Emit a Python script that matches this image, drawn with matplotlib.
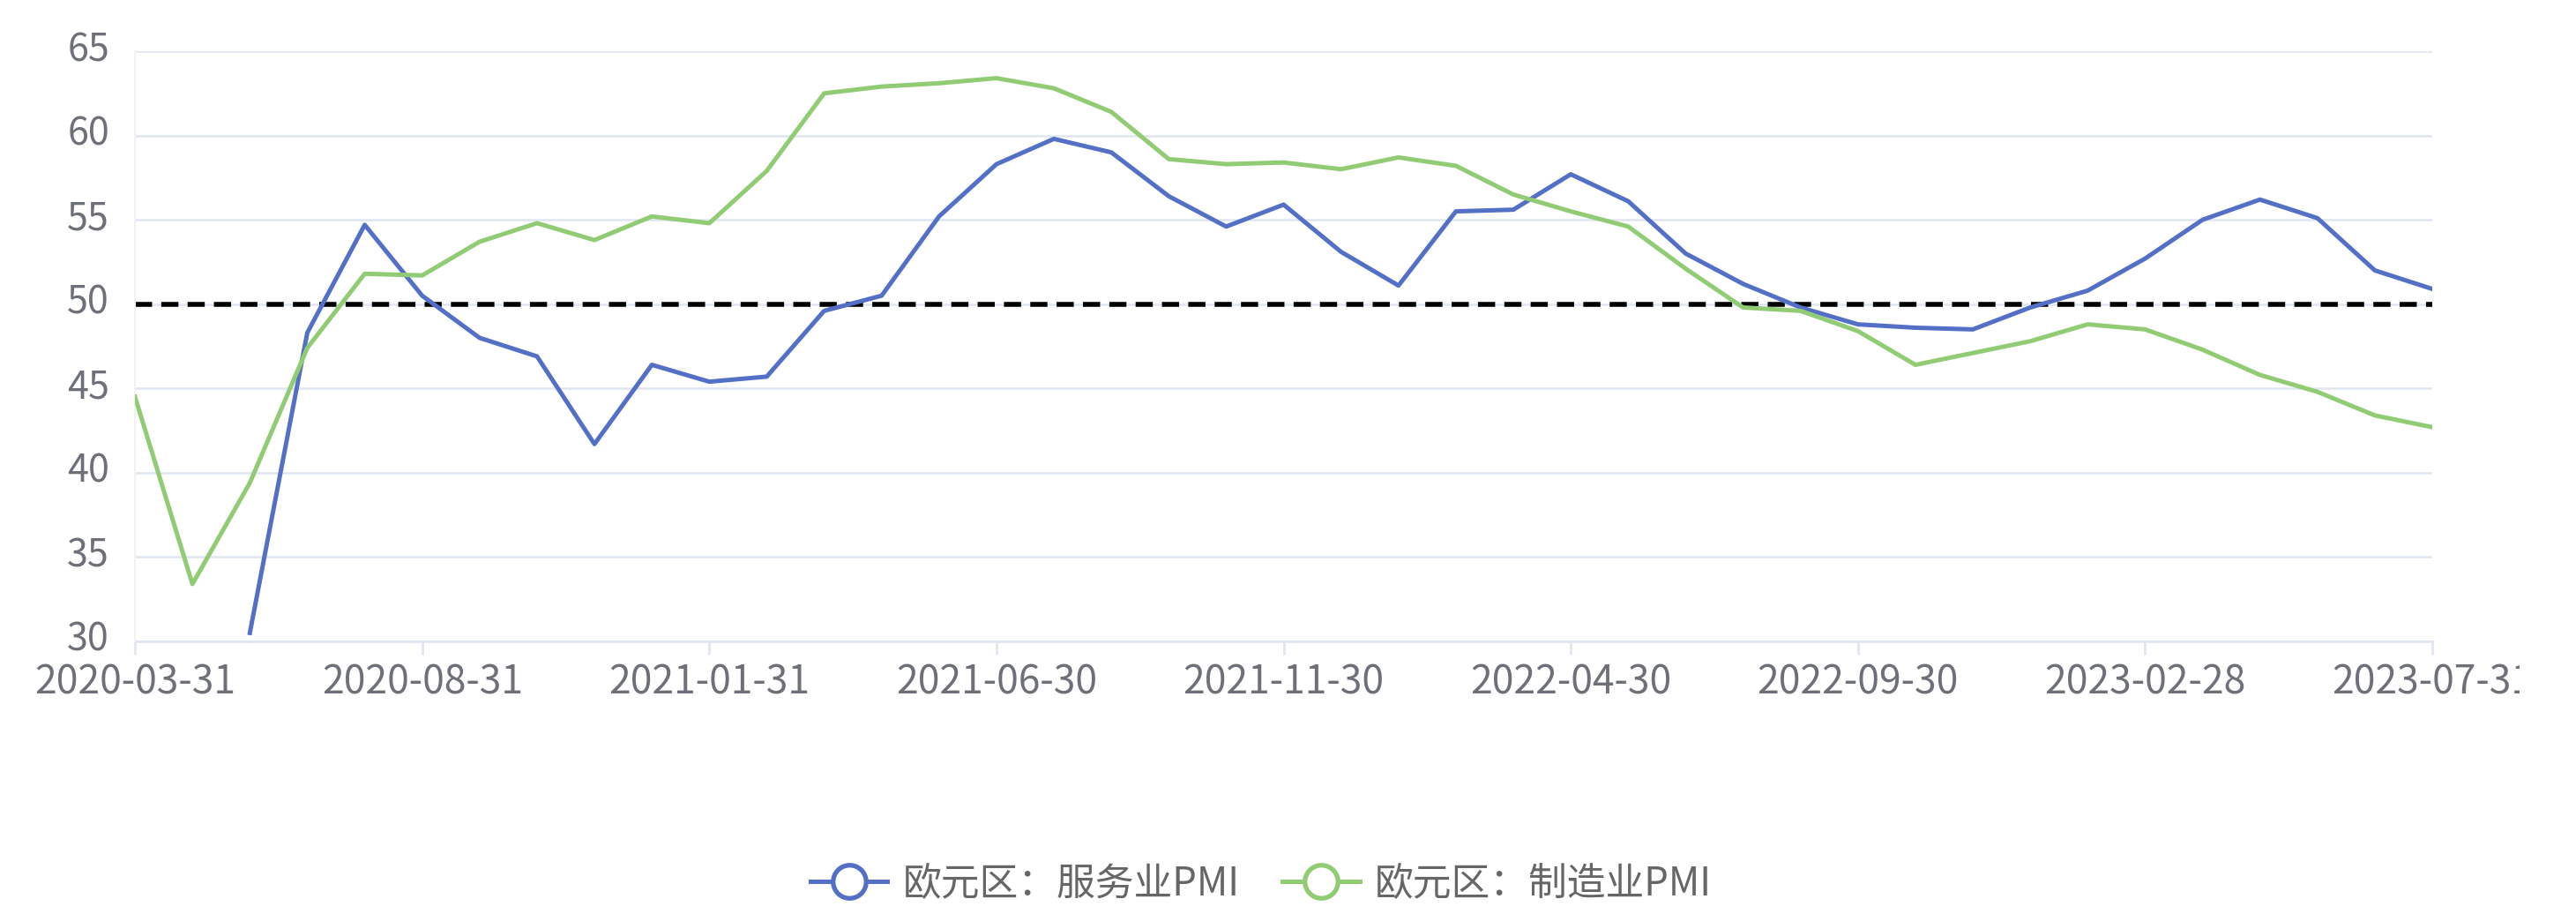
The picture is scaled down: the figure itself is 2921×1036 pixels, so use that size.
import numpy as np
import pandas as pd
from matplotlib import pyplot as plt
from matplotlib.lines import Line2D
from matplotlib.transforms import Bbox, ScaledTranslation

plt.rcParams['font.family'] = ['Noto Sans CJK SC', 'DejaVu Sans']
plt.rcParams['lines.scale_dashes'] = False

# ==============================================================================
#                                                                           DATA
# ==============================================================================
dates = pd.date_range('2020-03-31', periods=41, freq='ME').strftime('%Y-%m-%d').tolist()

services_pmi = [np.nan, np.nan, 30.5, 48.3, 54.7, 50.5, 48.0, 46.9, 41.7, 46.4,
                45.4, 45.7, 49.6, 50.5, 55.2, 58.3, 59.8, 59.0, 56.4, 54.6,
                55.9, 53.1, 51.1, 55.5, 55.6, 57.7, 56.1, 53.0, 51.2, 49.8,
                48.8, 48.6, 48.5, 49.8, 50.8, 52.7, 55.0, 56.2, 55.1, 52.0,
                50.9]

manufacturing_pmi = [44.5, 33.4, 39.4, 47.4, 51.8, 51.7, 53.7, 54.8, 53.8, 55.2,
                     54.8, 57.9, 62.5, 62.9, 63.1, 63.4, 62.8, 61.4, 58.6, 58.3,
                     58.4, 58.0, 58.7, 58.2, 56.5, 55.5, 54.6, 52.1, 49.8, 49.6,
                     48.4, 46.4, 47.1, 47.8, 48.8, 48.5, 47.3, 45.8, 44.8, 43.4,
                     42.7]

series_names = ['欧元区：服务业PMI', '欧元区：制造业PMI']
series_colors = ['#5470C6', '#91CC75']
y_ticks = [30, 35, 40, 45, 50, 55, 60, 65]
label_step = 5
threshold = 50

# ==============================================================================
#                                                                           PLOT
# ==============================================================================
fig = plt.figure(figsize=(29.21, 10.36), dpi=100)
ax = fig.add_axes([0.0524, 0.2983, 0.8918, 0.6457])

x = np.arange(len(dates))
grid_color = '#E0E6F1'
label_color = '#6E7079'

for yv in y_ticks:
    ax.axhline(yv, color=grid_color, lw=1.8, zorder=1)

ax.axhline(threshold, color='black', lw=4, dashes=(14, 7.5), zorder=2)

for vals, color in zip([services_pmi, manufacturing_pmi], series_colors):
    ax.plot(x, vals, color=color, lw=3.6, solid_joinstyle='round', zorder=3)

ax.set_xlim(0, len(dates) - 1)
ax.set_ylim(y_ticks[0], y_ticks[-1])
ax.set_yticks(y_ticks)
ax.set_xticks(x[::label_step])
ax.set_xticklabels(dates[::label_step])

for side in ['top', 'right']:
    ax.spines[side].set_visible(False)
ax.spines['left'].set_color('#F2F2F2')
ax.spines['left'].set_linewidth(1.5)
ax.spines['bottom'].set_color(grid_color)
ax.spines['bottom'].set_linewidth(2)
ax.spines['bottom'].set_zorder(1)

ax.tick_params(axis='y', length=0, pad=21, labelsize=31, labelcolor=label_color)
ax.tick_params(axis='x', length=11, width=2, color=grid_color, pad=6,
               labelsize=32, labelcolor=label_color)

handles = [Line2D([], [], color=c, lw=3.6, marker='o', markersize=27,
                  markerfacecolor='white', markeredgecolor=c, markeredgewidth=3.8)
           for c in series_colors]
fig.legend(handles, series_names, loc='center', bbox_to_anchor=(0.4896, 0.033),
           ncol=2, frameon=False, fontsize=31.5, labelcolor='#666666',
           handlelength=2.0, handletextpad=0.4, columnspacing=1.1)

fig.canvas.draw()

# y labels sit a little above their grid lines in the original
lift = ScaledTranslation(0, 6 / 100, fig.dpi_scale_trans)
for lbl in ax.get_yticklabels():
    lbl.set_transform(lbl.get_transform() + lift)

# the last date label is cut off at the right edge in the original
last_lbl = ax.get_xticklabels()[-1]
last_lbl.set_clip_on(True)
last_lbl.set_clip_box(Bbox.from_extents(0, 0, 2857, 1036))

fig.savefig('out.png', dpi=100)
